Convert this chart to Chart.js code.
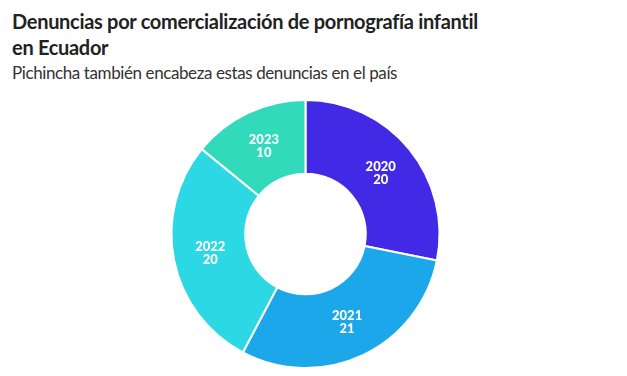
<!DOCTYPE html>
<html>
<head>
<meta charset="utf-8">
<script src="https://cdn.jsdelivr.net/npm/chart.js@4"></script>
<style>
  body { margin: 0; background: #fff; width: 627px; height: 376px; overflow: hidden; font-family: "Source Sans Pro", Lato, sans-serif; }
  #title { position: absolute; left: 12px; top: 8px; font-weight: 700; font-size: 20px; letter-spacing: -0.3px; line-height: 26px; color: #222; }
  #subtitle { position: absolute; left: 12px; top: 61px; font-size: 17px; letter-spacing: -0.4px; line-height: 24px; color: #333; font-weight: 400; }
  #wrap { position: absolute; left: 0; top: 99px; width: 627px; height: 270px; }
</style>
</head>
<body>
<div id="title">Denuncias por comercialización de pornografía infantil<br>en Ecuador</div>
<div id="subtitle">Pichincha también encabeza estas denuncias en el país</div>
<div id="wrap"><canvas id="chart"></canvas></div>
<script>
const years = ['2020', '2021', '2022', '2023'];
const denuncias = [20, 21, 20, 10];
const colores = ['#4129e6', '#1da7eb', '#2bd8e4', '#31dabb'];

// etiquetas en el centro de cada arco
const etiquetas = {
  id: 'etiquetas',
  afterDatasetsDraw(chart) {
    const ctx = chart.ctx;
    const meta = chart.getDatasetMeta(0);
    ctx.save();
    ctx.fillStyle = '#fff';
    ctx.font = '900 13px Lato, sans-serif';
    ctx.textAlign = 'center';
    ctx.textBaseline = 'middle';
    meta.data.forEach((arc, i) => {
      const p = arc.getCenterPoint();
      ctx.fillText(years[i], p.x, p.y - 6);
      ctx.fillText(String(denuncias[i]), p.x, p.y + 7);
    });
    ctx.restore();
  }
};

new Chart(document.getElementById('chart'), {
  type: 'doughnut',
  data: {
    labels: years,
    datasets: [{
      data: denuncias,
      backgroundColor: colores,
      borderColor: '#fff',
      borderWidth: 2
    }]
  },
  options: {
    responsive: true,
    maintainAspectRatio: false,
    animation: false,
    cutout: '45%',
    layout: { padding: { right: 16 } },
    plugins: {
      legend: { display: false },
      tooltip: { enabled: false }
    }
  },
  plugins: [etiquetas]
});
</script>
</body>
</html>
